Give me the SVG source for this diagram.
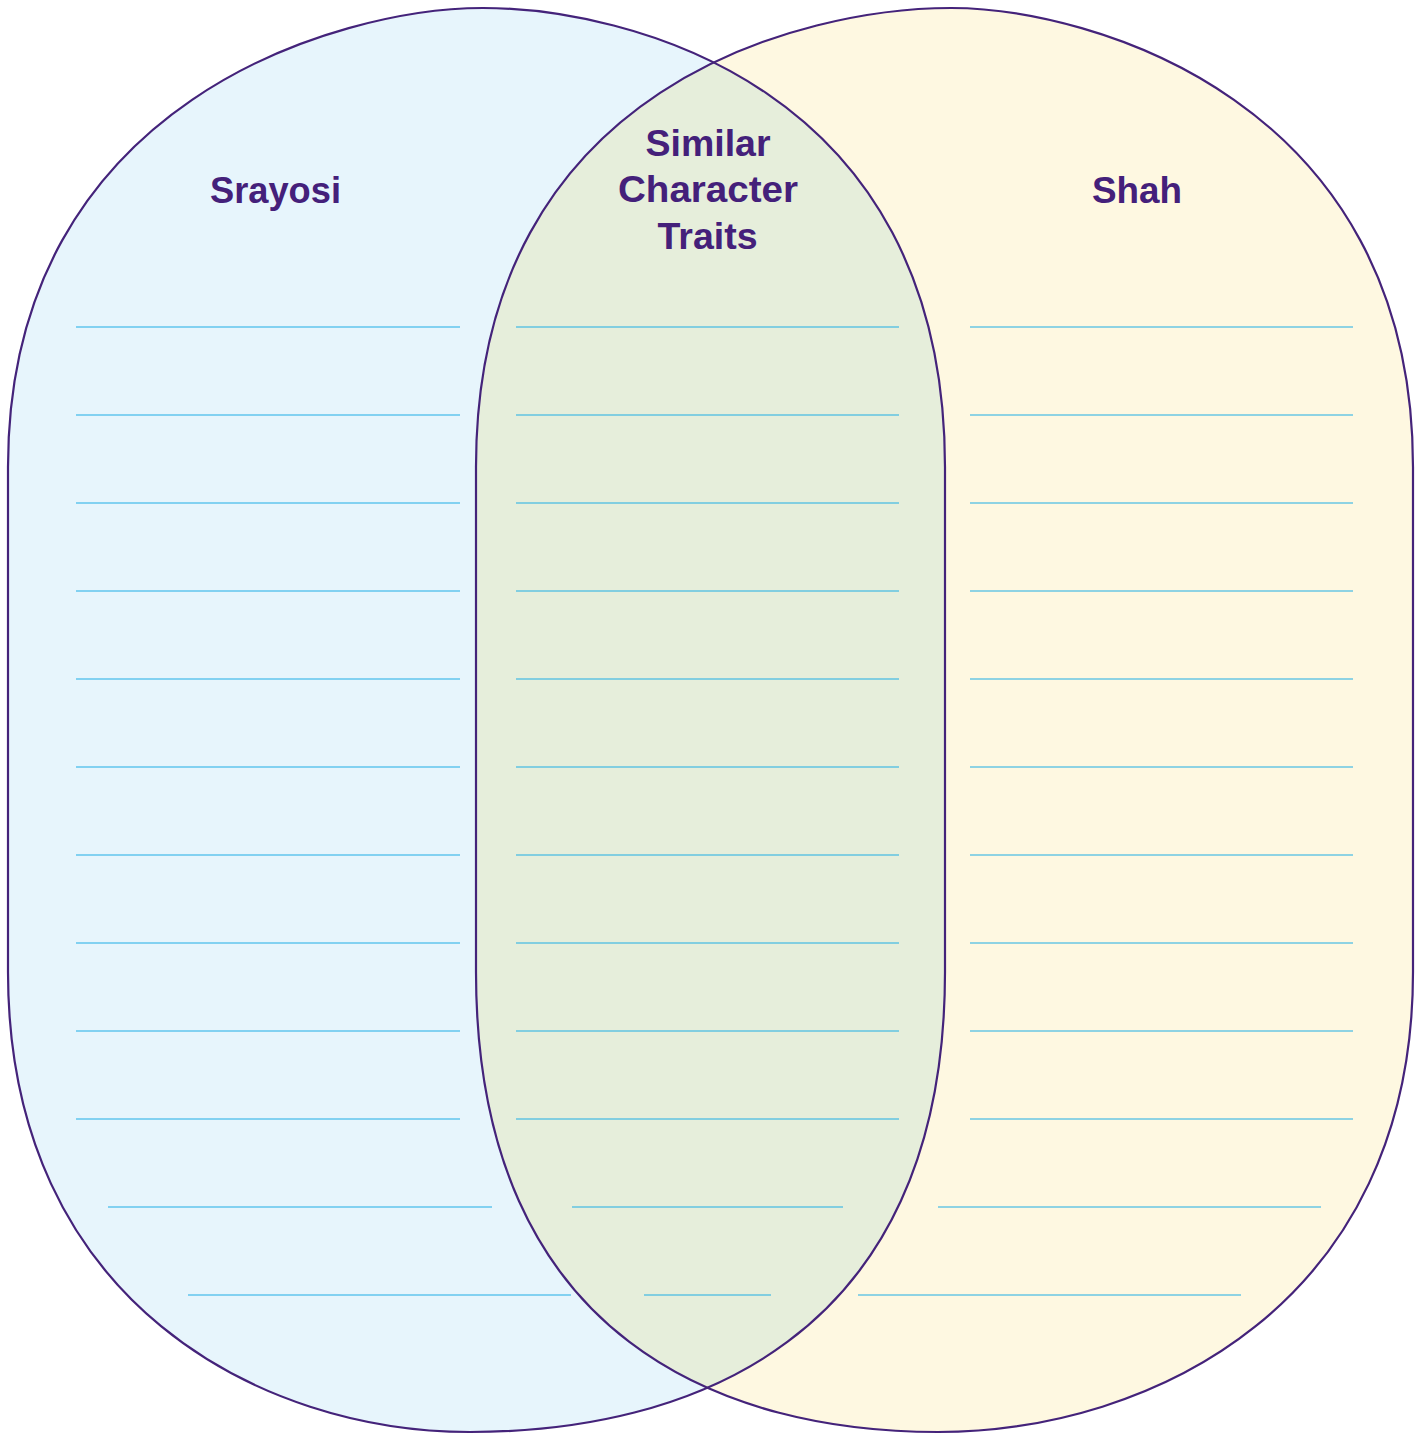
<svg xmlns="http://www.w3.org/2000/svg" width="1417" height="1434" viewBox="0 0 1417 1434">
  <style>
    .outline { fill: none; stroke: #44237a; stroke-width: 2.2; }
    .rule { stroke: #1eaee6; stroke-width: 1.2; fill: none; }
    .title { font-family: "Liberation Sans", Arial, sans-serif; font-weight: bold; font-size: 36px; fill: #44207a; text-anchor: middle; }
  </style>
  <defs>
    <path id="leftShape" d="M 8,467 L 8,972 C 8,1303.2 262.1,1432 470,1432 C 683.75,1432 945,1344.6 945,972 L 945,467 C 945,81.4 621.6,8 483,8 C 340.5,8 8,99.8 8,467 Z"/>
    <path id="rightShape" d="M 476,467 L 476,972 C 476,1344.6 730.1,1432 938,1432 C 1151.75,1432 1413,1303.2 1413,972 L 1413,467 C 1413,99.8 1089.6,8 951,8 C 808.5,8 476,81.4 476,467 Z"/>
    <clipPath id="clipLeft"><use href="#leftShape"/></clipPath>
  </defs>

  <g id="node-srayosi">
    <use href="#leftShape" fill="#e7f5fc"/>
  </g>
  <g id="node-shah">
    <use href="#rightShape" fill="#fef8e1"/>
  </g>
  <g id="node-similar">
    <use href="#rightShape" fill="#e6eedb" clip-path="url(#clipLeft)"/>
  </g>
  <g id="outlines">
    <use href="#leftShape" class="outline"/>
    <use href="#rightShape" class="outline"/>
  </g>

  <g id="rules-srayosi" class="rule">
    <path d="M76,327H460 M76,415H460 M76,503H460 M76,591H460 M76,679H460 M76,767H460 M76,855H460 M76,943H460 M76,1031H460 M76,1119H460 M108,1207H492 M188,1295H571"/>
  </g>
  <g id="rules-similar" class="rule">
    <path d="M516,327H899 M516,415H899 M516,503H899 M516,591H899 M516,679H899 M516,767H899 M516,855H899 M516,943H899 M516,1031H899 M516,1119H899 M572,1207H843 M644,1295H771"/>
  </g>
  <g id="rules-shah" class="rule">
    <path d="M970,327H1353 M970,415H1353 M970,503H1353 M970,591H1353 M970,679H1353 M970,767H1353 M970,855H1353 M970,943H1353 M970,1031H1353 M970,1119H1353 M938,1207H1321 M858,1295H1241"/>
  </g>

  <g id="labels">
    <text class="title" x="275.5" y="203" textLength="131" lengthAdjust="spacingAndGlyphs">Srayosi</text>
    <text class="title" x="708" y="156" textLength="125" lengthAdjust="spacingAndGlyphs">Similar</text>
    <text class="title" x="708" y="202" textLength="180" lengthAdjust="spacingAndGlyphs">Character</text>
    <text class="title" x="707.5" y="249" textLength="100" lengthAdjust="spacingAndGlyphs">Traits</text>
    <text class="title" x="1137" y="203" textLength="90" lengthAdjust="spacingAndGlyphs">Shah</text>
  </g>
</svg>
